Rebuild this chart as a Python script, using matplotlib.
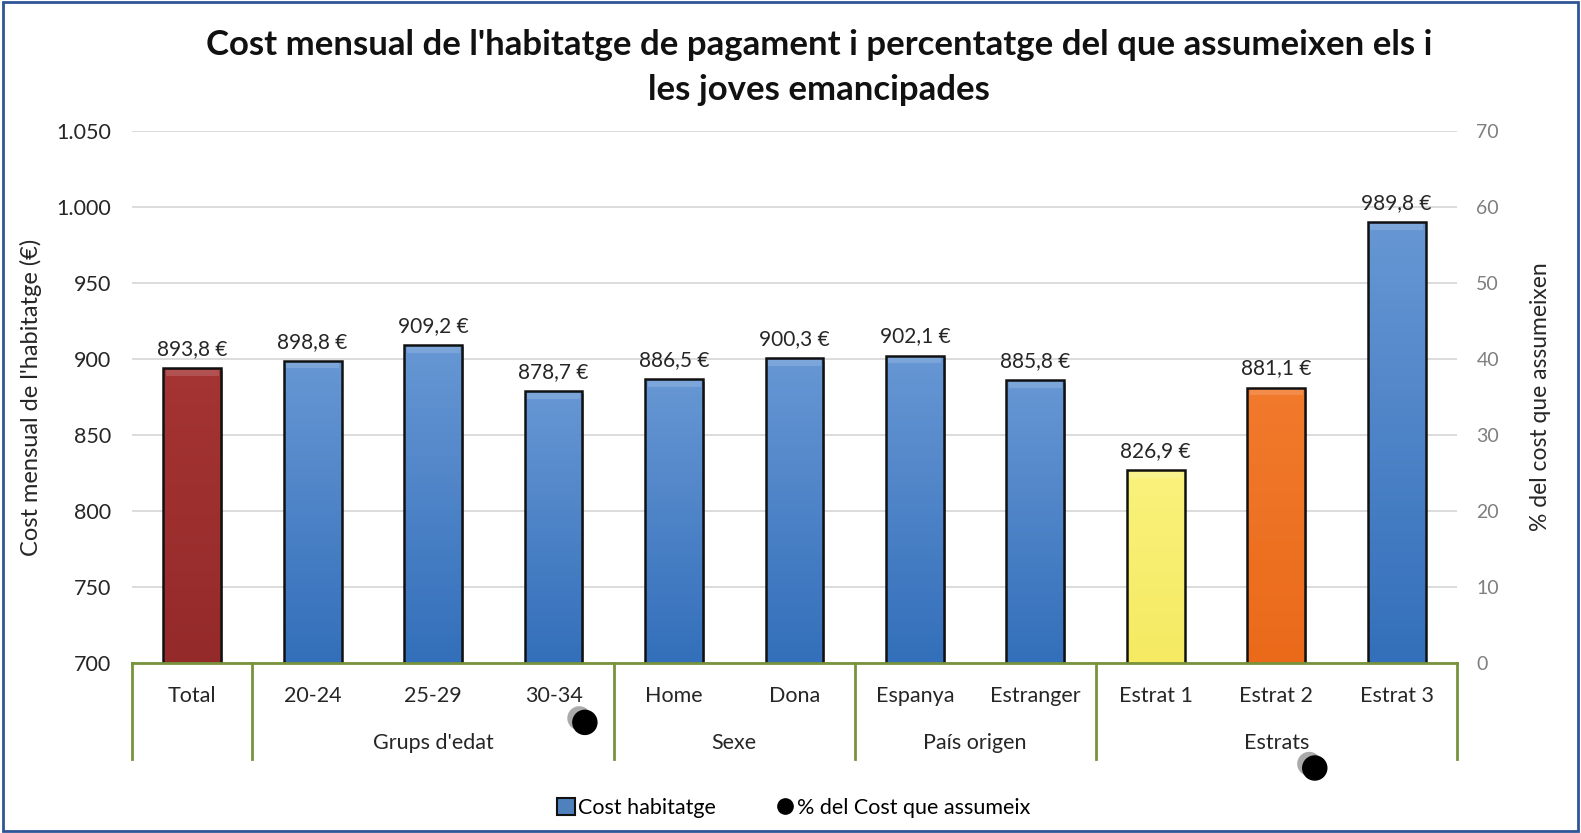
import numpy as np
import matplotlib
matplotlib.use("Agg")
import matplotlib.pyplot as plt
from matplotlib.patches import Rectangle
from matplotlib.lines import Line2D
import matplotlib.patheffects as pe

plt.rcParams['font.family'] = ['Lato', 'DejaVu Sans']

categories = ["Total", "20-24", "25-29", "30-34", "Home", "Dona",
              "Espanya", "Estranger", "Estrat 1", "Estrat 2", "Estrat 3"]
cost = [893.8, 898.8, 909.2, 878.7, 886.5, 900.3, 902.1, 885.8, 826.9, 881.1, 989.8]
groups = [("", 0, 0), ("Grups d'edat", 1, 3), ("Sexe", 4, 5),
          ("País origen", 6, 7), ("Estrats", 8, 10)]
# percentage series (markers only, fall below the secondary axis range)
pct_x = [3.26, 9.32]
pct_vals = [-7.8, -13.8]

bar_top = {"Total": "#A53434", "Estrat 1": "#FAF27C", "Estrat 2": "#F27A2C"}
bar_bot = {"Total": "#952A2A", "Estrat 1": "#F5EA62", "Estrat 2": "#EA6A1A"}
blue_top, blue_bot = "#6797D4", "#336FBA"

fig = plt.figure(figsize=(15.81, 8.33), dpi=100)
ax = fig.add_axes([0.0835, 0.204, 0.838, 0.639])
ax2 = ax.twinx()

x = np.arange(len(categories))
bars = ax.bar(x, cost, width=0.48, bottom=0, color="none", edgecolor="#111111",
              linewidth=1.8, zorder=3)
ax.set_ylim(700, 1050)
ax.set_xlim(-0.5, len(categories) - 0.5)

for b, cat in zip(bars, categories):
    top = bar_top.get(cat, blue_top)
    bot = bar_bot.get(cat, blue_bot)
    c1 = np.array(matplotlib.colors.to_rgb(top))
    c2 = np.array(matplotlib.colors.to_rgb(bot))
    t = np.linspace(0, 1, 100)[:, None]
    grad = (c1 * (1 - t) + c2 * t)[:, None, :]
    xl, w, h = b.get_x(), b.get_width(), b.get_height()
    im = ax.imshow(grad, extent=[xl, xl + w, 700, h], aspect="auto",
                   zorder=2, origin="upper")
    im.set_clip_path(b)
    # light bevel at the top of each bar
    ax.add_patch(Rectangle((xl + 0.02, h - 5), w - 0.04, 4, color="#FFFFFF",
                           alpha=0.15, zorder=2.5, lw=0))
    # shadow
    ax.add_patch(Rectangle((xl + 0.015, 700), w, h - 700 - 1.5, color="#000000",
                           alpha=0.3, zorder=1.5, lw=0))
    ax.text(b.get_x() + w / 2, h + 6, f"{h:.1f} €".replace(".", ","),
            ha="center", va="bottom", fontsize=15, color="#262626", zorder=5)

ax.set_yticks(np.arange(700, 1051, 50))
ax.set_yticklabels([f"{v:,}".replace(",", ".") for v in range(700, 1051, 50)],
                   fontsize=15.5, color="#262626")
ax.tick_params(axis="y", length=0, pad=15)
ax.grid(axis="y", color="#D9D9D9", linewidth=1.3, zorder=0)
ax.set_axisbelow(True)
for s in ax.spines.values():
    s.set_visible(False)
for s in ax2.spines.values():
    s.set_visible(False)
ax.set_xticks([])
ax.set_ylabel("Cost mensual de l'habitatge (€)", fontsize=17, color="#262626",
              labelpad=10)

ax2.set_ylim(0, 70)
ax2.set_yticks(range(0, 71, 10))
ax2.tick_params(axis="y", length=0, labelsize=14, labelcolor="#7F7F7F", pad=14)
ax2.set_ylabel("% del cost que assumeixen", fontsize=16.5, color="#262626",
               labelpad=22)
ax2.scatter(pct_x, pct_vals, s=300, color="#000000", zorder=6, clip_on=False,
            path_effects=[pe.SimplePatchShadow(offset=(-4, 3), alpha=0.45,
                                               shadow_rgbFace="#444444"),
                          pe.Normal()])

# category axis with group brackets
green = "#77933C"
trans = ax.get_xaxis_transform()
ax.plot([-0.5, len(categories) - 0.5], [0, 0], color=green, lw=2,
        transform=trans, clip_on=False, zorder=4)
bounds = [-0.5, 0.5, 3.5, 5.5, 7.5, 10.5]
for bx in bounds:
    ax.plot([bx, bx], [0, -0.18], color=green, lw=2, transform=trans,
            clip_on=False)
for i, c in enumerate(categories):
    ax.text(i, -0.062, c, ha="center", va="center", fontsize=15.5,
            color="#262626", transform=trans)
for name, a, b in groups:
    if name:
        ax.text((a + b) / 2, -0.15, name, ha="center", va="center",
                fontsize=15.5, color="#262626", transform=trans)

fig.suptitle("Cost mensual de l'habitatge de pagament i percentatge del que assumeixen els i\nles joves emancipades",
             x=0.518, y=0.965, fontsize=25, fontweight="bold", color="#111111",
             linespacing=1.5)

handles = [Rectangle((0, 0), 1, 1, facecolor="#4F81BD", edgecolor="#111111", lw=1.5),
           Line2D([], [], marker="o", color="#000000", ls="none", markersize=11)]
fig.legend(handles, ["Cost habitatge", "% del Cost que assumeix"],
           loc="center", bbox_to_anchor=(0.502, 0.03), ncol=2, frameon=False,
           fontsize=15.5, handlelength=0.8, handleheight=0.8, handletextpad=0.15,
           columnspacing=2.8)

fig.patches.append(Rectangle((0.002, 0.002), 0.996, 0.996, transform=fig.transFigure,
                             fill=False, edgecolor="#2F5597", lw=2))

fig.savefig("out.png", dpi=100)
